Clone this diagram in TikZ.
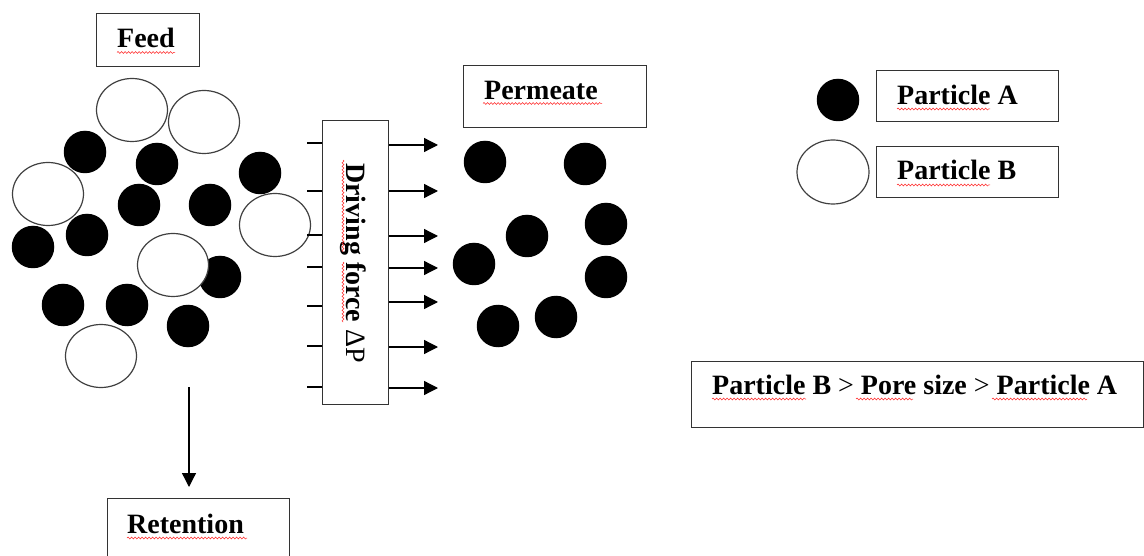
\documentclass[tikz,border=0pt]{standalone}
\usepackage{fontspec}
\setmainfont{Liberation Serif}
\usetikzlibrary{shapes.geometric,arrows.meta,decorations.pathmorphing}
\begin{document}
\begin{tikzpicture}[x=1pt,y=-1pt,
  box/.style={draw=black!80, line width=1.4pt, fill=white, inner sep=0, anchor=north west},
  txt/.style={font=\fontsize{28}{33}\selectfont\bfseries, inner sep=0, anchor=base west},
  partA/.style={circle, fill=black, minimum size=42.5, inner sep=0},
  partB/.style={ellipse, draw=black!75, line width=1.2pt, fill=white, minimum width=71, minimum height=63, inner sep=0},
  wavy/.style={draw=red!85, line width=0.5pt, decorate, decoration={snake, amplitude=1pt, segment length=3.5pt}},
  arr/.style={line width=1.3pt, -{Triangle[length=14pt,width=14pt]}},
  stub/.style={line width=1.3pt}]
\useasboundingbox (0,0) rectangle (1144,556);

% Feed particles
\node[partA] (fa1) at (85,152) {};
\node[partA] (fa2) at (157,164) {};
\node[partA] (fa3) at (260,173) {};
\node[partA] (fa4) at (139,205) {};
\node[partA] (fa5) at (210,205) {};
\node[partA] (fa6) at (33,247) {};
\node[partA] (fa7) at (87,235) {};
\node[partA] (fa8) at (220,277) {};
\node[partA] (fa9) at (63,305) {};
\node[partA] (fa10) at (127,305) {};
\node[partA] (fa11) at (188,326) {};
\node[partB] (fb1) at (132,110) {};
\node[partB] (fb2) at (204,122) {};
\node[partB] (fb3) at (48,194) {};
\node[partB] (fb4) at (275,225) {};
\node[partB] (fb5) at (173,265) {};
\node[partB] (fb6) at (101,356) {};

% Permeate particles
\node[partA] (pa1) at (485,162) {};
\node[partA] (pa2) at (585,164) {};
\node[partA] (pa3) at (527,236) {};
\node[partA] (pa4) at (606,224) {};
\node[partA] (pa5) at (474,264) {};
\node[partA] (pa6) at (606,277) {};
\node[partA] (pa7) at (498,326) {};
\node[partA] (pa8) at (556,317) {};

% Legend particles
\node[partA] (la) at (838,100) {};
\node[partB, minimum width=72, minimum height=64] (lb) at (833,172) {};

% Boxes
\node[box, minimum width=103, minimum height=53] (feed) at (96,13) {};
\node[box, minimum width=183, minimum height=62] (perm) at (463,65) {};
\node[box, minimum width=66, minimum height=284] (df) at (322,120) {};
\node[box, minimum width=182, minimum height=80] (ret) at (107,498) {};
\node[box, minimum width=182, minimum height=51] (boxA) at (876,70) {};
\node[box, minimum width=182, minimum height=51] (boxB) at (876,146) {};
\node[box, minimum width=452, minimum height=66] (stmt) at (691,361) {};

% Texts
\node[txt] (feedt) at (117,48) {Feed};
\node[txt] (permt) at (484,100) {Permeate};
\node[txt] (rett) at (127,533) {Retention};
\node[txt] (pAt) at (897,105) {Particle A};
\node[txt] (pBt) at (897,180) {Particle B};
\node[txt] (stmtt) at (712,394) {Particle B \textmd{>} Pore size \textmd{>} Particle A};
\node[txt, anchor=base, rotate=-90] (dft) at (346,263) {Driving force \textmd{ΔP}};

% spell-check underlines
\draw[wavy] (117,52.5) -- (175,52.5);
\draw[wavy] (483,103.5) -- (602,103.5);
\draw[wavy] (127,538) -- (247,538);
\draw[wavy] (897,109) -- (990,109);
\draw[wavy] (897,185) -- (990,185);
\draw[wavy] (712,399) -- (806,399);
\draw[wavy] (856,399) -- (913,399);
\draw[wavy] (992,399) -- (1087,399);
\draw[wavy] (343,160) -- (343,252);
\draw[wavy] (343,262) -- (343,322);

% inflow stubs
\foreach \i/\yy in {1/143,2/191,3/235,4/267,5/306,6/346,7/387}{
  \coordinate (s\i) at (307,\yy);
  \draw[stub] (s\i) -- (s\i -| df.west);
}
% outflow arrows
\foreach \i/\yy in {1/145,2/191,3/236,4/268,5/302,6/347,7/388}{
  \coordinate (t\i) at (438,\yy);
  \draw[arr] (t\i -| df.east) -- (t\i);
}

% retention arrow
\coordinate (rs) at (189,387);
\draw[arr, shorten >=11pt] (rs) -- (rs |- ret.north);
\end{tikzpicture}
\end{document}
